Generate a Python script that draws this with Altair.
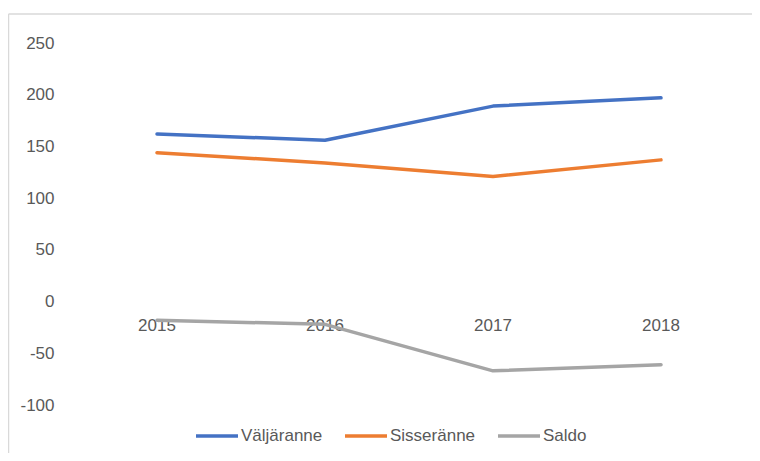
import altair as alt
import pandas as pd

years = ["2015", "2016", "2017", "2018"]
valjaranne = [162, 156, 189, 197]
sisseranne = [144, 134, 121, 137]
saldo = [-18, -22, -67, -61]
series = ["Väljäranne", "Sisseränne", "Saldo"]
colors = ["#4472C4", "#ED7D31", "#A5A5A5"]
y_ticks = [-100, -50, 0, 50, 100, 150, 200, 250]

rows = []
for name, vals in zip(series, [valjaranne, sisseranne, saldo]):
    for yr, v in zip(years, vals):
        rows.append({"Aasta": yr, "Seeria": name, "Väärtus": v})
df = pd.DataFrame(rows)
labels_df = pd.DataFrame({"Aasta": years})

FONT = "Liberation Sans"
TXT = "#595959"
GRID = "#D9D9D9"

x_enc = alt.X("Aasta:O", sort=years, scale=alt.Scale(type="point", padding=0.5), axis=None)
y_scale = alt.Scale(domain=[-100, 250], nice=False, zero=False)

lines = alt.Chart(df).mark_line(strokeWidth=3.5, strokeCap="round", strokeJoin="round").encode(
    x=x_enc,
    y=alt.Y("Väärtus:Q", scale=y_scale,
            axis=alt.Axis(values=y_ticks, title=None, domain=False, ticks=False, tickSize=0,
                          labelExpr="datum.value + ''",
                          labelPadding=19, labelFontSize=17, labelColor=TXT, labelFont=FONT,
                          gridColor=GRID, gridWidth=1.5)),
    color=alt.Color("Seeria:N", sort=series, scale=alt.Scale(domain=series, range=colors),
                    legend=alt.Legend(orient="none", legendX=121, legendY=370, direction="horizontal",
                                      title=None, symbolType="stroke", symbolSize=1764,
                                      symbolStrokeWidth=3.5, labelFontSize=17, labelFont=FONT,
                                      labelColor=TXT, labelOffset=1, columnPadding=15, padding=0)),
)

xlabels = alt.Chart(labels_df).mark_text(dy=24, fontSize=17, color=TXT, font=FONT).encode(
    x=x_enc, y=alt.datum(0, type="quantitative"), text="Aasta:N"
)

dummy = pd.DataFrame({"a": [0]})
frame_top = alt.Chart(dummy).mark_rule(color=GRID, strokeWidth=1.5).encode(
    x=alt.value(-64.5), x2=alt.value(679), y=alt.value(-29)
)
frame_left = alt.Chart(dummy).mark_rule(color=GRID, strokeWidth=1.5).encode(
    x=alt.value(-64.5), y=alt.value(-29), y2=alt.value(410)
)

chart = alt.layer(frame_top, frame_left, xlabels, lines).properties(
    width=672, height=362,
    padding={"left": 65, "top": 35, "right": 7, "bottom": 48},
    autosize=alt.AutoSizeParams(type="none"),
).configure_view(stroke=None)

chart.save("out.html", embed_options={"renderer": "svg", "actions": False})
